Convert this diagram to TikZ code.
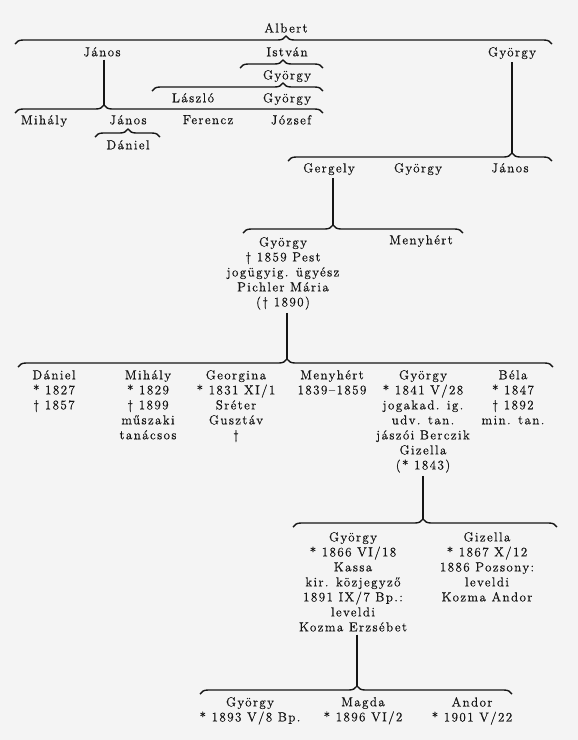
\documentclass[tikz,border=0pt]{standalone}
\usepackage{xcolor}
\definecolor{lap-bg}{HTML}{F4F4F4}
\definecolor{lap-ink}{HTML}{151515}
\usepackage{fontspec}
\newfontfamily\konyv{Latin Modern Roman}[LetterSpace=11, FakeBold=0.7]
\usepackage{tikz}
\usetikzlibrary{decorations.pathreplacing}

\tikzset{
  nev/.style={align=center, inner sep=0pt, anchor=north, text=lap-ink,
    font=\konyv\fontsize{13}{15}\selectfont},
  szar/.style={draw=lap-ink, line width=1.5pt, shorten <=3pt},
  ag/.style={draw=lap-ink, line width=1.4pt, decorate,
    decoration={brace, amplitude=8pt, aspect=#1}},
}

% aga: csucs neve, bal x, csucs x, jobb x, y
\newcommand\aga[5]{%
  \pgfmathsetmacro\agasp{(#3-#2)/(#4-#2)}%
  \coordinate (#1) at (#3,#5-4);%
  \draw[ag=\agasp] (#2,#5+4) -- (#4,#5+4);%
}

\begin{document}
\begin{tikzpicture}[x=1pt, y=-1pt]

    % Hatter
    \fill[lap-bg] (0,0) rectangle (578,740);

% Felso agak
\node[nev] (albert) at (286,23) {Albert};
\aga{tA}{15}{286}{552}{40}
\node[nev] (janos1) at (102,47) {János};
\node[nev] (istvan) at (287,47) {István};
\node[nev] (gyorgy1) at (512,47) {György};
\aga{tB}{240}{283}{323}{64}
\node[nev] (gyorgy2) at (287,70) {György};
\aga{tC}{152}{283}{323}{87}
\node[nev] (laszlo) at (193,93) {László};
\node[nev] (gyorgy3) at (287,93) {György};
\aga{tD}{15}{104}{323}{109}
\draw[szar] (tD |- janos1.south) -- (tD);
\node[nev] (mihaly1) at (44,115) {Mihály};
\node[nev] (janos2) at (128,115) {János};
\node[nev] (ferencz) at (208,115) {Ferencz};
\node[nev] (jozsef) at (291,115) {József};
\aga{tE}{95}{128}{160}{133}
\node[nev] (daniel1) at (128,140) {Dániel};

% Gyorgy aga
\aga{tF}{288}{512}{552}{157}
\draw[szar] (tF |- gyorgy1.south) -- (tF);
\node[nev] (gergely) at (329,163) {Gergely};
\node[nev] (gyorgy4) at (418,163) {György};
\node[nev] (janos3) at (510,163) {János};
\aga{tG}{243}{333}{463}{229}
\draw[szar] (tG |- gergely.south) -- (tG);
\node[nev] (gyorgy5) at (283,237) {György\\† 1859 Pest\\jogügyig. ügyész\\Pichler Mária\\(† 1890)};
\node[nev] (menyhert1) at (421,235) {Menyhért};

% Gyermekek
\aga{tH}{18}{287}{553}{363}
\draw[szar] (tH |- gyorgy5.south) -- (tH);
\node[nev] (daniel2) at (54,370) {Dániel\\* 1827\\† 1857};
\node[nev] (mihaly2) at (148,370) {Mihály\\* 1829\\† 1899\\műszaki\\tanácsos};
\node[nev] (georgina) at (236,370) {Georgina\\* 1831 XI/1\\Sréter\\Gusztáv\\†};
\node[nev] (menyhert2) at (332,370) {Menyhért\\1839–1859};
\node[nev] (gyorgy6) at (423,370) {György\\* 1841 V/28\\jogakad. ig.\\udv. tan.\\jászói Berczik\\Gizella\\(* 1843)};
\node[nev] (bela) at (513,370) {Béla\\* 1847\\† 1892\\min. tan.};

% Unokak
\aga{tI}{293}{423}{557}{523}
\draw[szar] (tI |- gyorgy6.south) -- (tI);
\node[nev] (gyorgy7) at (353,532) {György\\* 1866 VI/18\\Kassa\\kir. közjegyző\\1891 IX/7 Bp.:\\leveldi\\Kozma Erzsébet};
\node[nev] (gizella) at (487,532) {Gizella\\* 1867 X/12\\1886 Pozsony:\\leveldi\\Kozma Andor};

\aga{tJ}{200}{357}{512}{690}
\draw[szar] (tJ |- gyorgy7.south) -- (tJ);
\node[nev] (gyorgy8) at (250,697) {György\\* 1893 V/8 Bp.};
\node[nev] (magda) at (363,697) {Magda\\* 1896 VI/2};
\node[nev] (andor) at (472,697) {Andor\\* 1901 V/22};
    
\end{tikzpicture}
\end{document}
